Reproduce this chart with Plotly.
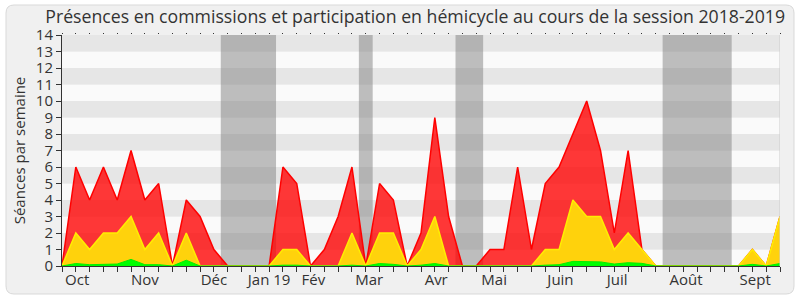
import plotly.graph_objects as go

weeks = list(range(53))
presences = [0, 6, 4, 6, 4, 7, 4, 5, 0, 4, 3, 1, 0, 0, 0, 0, 6, 5, 0, 1, 3, 6, 0, 5, 4, 0,
             2, 9, 3, 0, 0, 1, 1, 6, 1, 5, 6, 8, 10, 7, 2, 7, 1, 0, 0, 0, 0, 0, 0, 0, 1, 0, 3]
participations = [0, 2, 1, 2, 2, 3, 1, 2, 0, 2, 0, 0, 0, 0, 0, 0, 1, 1, 0, 0, 0, 2, 0, 2, 2, 0,
                  1, 3, 0, 0, 0, 0, 0, 0, 0, 1, 1, 4, 3, 3, 1, 2, 1, 0, 0, 0, 0, 0, 0, 0, 1, 0, 3]
interventions = [0, 0.15, 0.08, 0.08, 0.12, 0.4, 0.08, 0.08, 0, 0.35, 0, 0, 0, 0, 0, 0, 0.05, 0.05,
                 0, 0, 0, 0.05, 0, 0.15, 0.1, 0, 0.05, 0.15, 0, 0, 0, 0, 0, 0, 0, 0.05, 0.08, 0.28,
                 0.28, 0.25, 0.12, 0.2, 0.16, 0, 0, 0, 0, 0, 0, 0, 0.1, 0, 0.15]
month_labels = ["Oct", "Nov", "Déc", "Jan 19", "Fév", "Mar", "Avr", "Mai", "Juin", "Juil", "Août", "Sept"]
month_pos = [1.1, 6.0, 11.0, 15.0, 18.2, 22.25, 27.1, 31.3, 36.1, 40.2, 45.2, 50.2]
vacances = [(11.5, 15.5), (21.5, 22.5), (28.5, 30.5), (43.5, 48.5)]
y_max = 14

FONT = "Open Sans"
fig = go.Figure()
fig.add_trace(go.Scatter(x=weeks, y=presences, mode="lines", fill="tozeroy",
                         line=dict(color="#ff0000", width=1.5), fillcolor="rgba(255,0,0,0.78)",
                         hoverinfo="skip", showlegend=False))
fig.add_trace(go.Scatter(x=weeks, y=participations, mode="lines", fill="tozeroy",
                         line=dict(color="#ffee00", width=1.5), fillcolor="#ffd20c",
                         hoverinfo="skip", showlegend=False))
fig.add_trace(go.Scatter(x=weeks, y=interventions, mode="lines", fill="tozeroy",
                         line=dict(color="#00ee00", width=1), fillcolor="#00ff00",
                         hoverinfo="skip", showlegend=False))
# invisible trace for top axis
fig.add_trace(go.Scatter(x=[0, 52], y=[0, 0], xaxis="x2", mode="lines",
                         line=dict(width=0), hoverinfo="skip", showlegend=False))

shapes = []
# outer frame
L, R, T, B = 62, 780, 35, 266
pw, ph = R - L, B - T
def px(p): return (p - L) / pw
def py(p): return (B - p) / ph
fx0, fx1, fy0, fy1 = px(6), px(794), py(294), py(5)
rx, ry = 8 / pw, 8 / ph
path = (f"M {fx0+rx},{fy1} L {fx1-rx},{fy1} Q {fx1},{fy1} {fx1},{fy1-ry} "
        f"L {fx1},{fy0+ry} Q {fx1},{fy0} {fx1-rx},{fy0} L {fx0+rx},{fy0} "
        f"Q {fx0},{fy0} {fx0},{fy0+ry} L {fx0},{fy1-ry} Q {fx0},{fy1} {fx0+rx},{fy1} Z")
shapes.append(dict(type="path", path=path, xref="paper", yref="paper", layer="below",
                   fillcolor="#f0f0f0", line=dict(color="#d9d9d9", width=1)))
# stripes
for k in range(y_max):
    shapes.append(dict(type="rect", xref="x", yref="y", x0=0, x1=52, y0=k, y1=k + 1,
                       layer="below", line=dict(width=0),
                       fillcolor="#e6e6e6" if k % 2 == 1 else "#fafafa"))
for a, b in vacances:
    shapes.append(dict(type="rect", xref="x", yref="y", x0=a, x1=b, y0=0, y1=y_max,
                       layer="below", line=dict(width=0), fillcolor="rgba(128,128,128,0.5)"))
shapes.append(dict(type="line", xref="x", yref="y", x0=52, x1=52, y0=0, y1=y_max,
                   line=dict(color="#cccccc", width=1)))

fig.update_layout(
    width=800, height=300,
    margin=dict(l=L, r=800 - R, t=T, b=300 - B),
    paper_bgcolor="white", plot_bgcolor="#fafafa",
    shapes=shapes,
    font=dict(family=FONT, color="#333333"),
    title=dict(text="Présences en commissions et participation en hémicycle au cours de la session 2018-2019",
               x=0.519, xref="container", xanchor="center", y=0.945, yref="container", yanchor="middle",
               font=dict(size=17.7, color="#333333", family=FONT)),
    xaxis=dict(range=[0, 52], tickmode="array", tickvals=month_pos, ticktext=month_labels,
               ticks="", showgrid=False, zeroline=False, showline=True, linecolor="#333333",
               tickfont=dict(size=15, color="#333333"),
               minor=dict(tickmode="array", tickvals=weeks, ticks="outside", ticklen=5,
                          tickcolor="#333333", showgrid=False)),
    xaxis2=dict(range=[0, 52], overlaying="x", side="top", anchor="y", tickmode="array",
                tickvals=weeks, ticks="outside", ticklen=1, tickcolor="#333333",
                showticklabels=False, showgrid=False, zeroline=False, showline=False),
    yaxis=dict(range=[0, y_max], tickmode="linear", dtick=1, tick0=0, ticks="outside", ticklen=5,
               tickcolor="#333333", showgrid=False, zeroline=False, showline=True, linecolor="#333333",
               tickfont=dict(size=15, color="#333333"),
               title=dict(text="Séances par semaine", font=dict(size=15, color="#333333"), standoff=6)),
)
fig.write_html("out.html")
